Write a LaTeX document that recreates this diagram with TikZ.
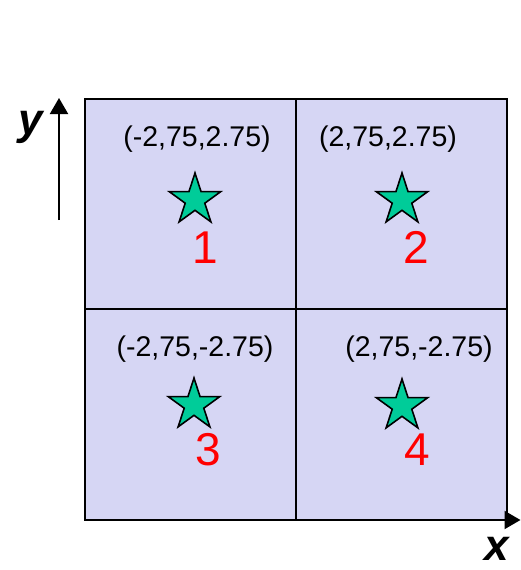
\documentclass[tikz,border=0pt]{standalone}
\usepackage{fontspec}
\setmainfont{Liberation Sans}
\usetikzlibrary{arrows.meta,shapes.geometric,positioning}

\definecolor{cellfill}{RGB}{214,214,244}
\definecolor{stargreen}{RGB}{0,204,153}

\tikzset{
    coordlabel/.style={font=\fontsize{28.5}{31}\selectfont, inner sep=0pt},
    quadnum/.style={font=\fontsize{46}{50}\selectfont, text=red, inner sep=0pt},
    axislabel/.style={font=\fontsize{44}{48}\selectfont\bfseries\itshape, inner sep=0pt},
    starmark/.style={star, star points=5, star point ratio=2.618, minimum size=54pt,
        inner sep=0pt, fill=stargreen, draw=black, line width=1.6pt}
}

\begin{document}
\begin{tikzpicture}[x=1pt, y=-1pt, >={Triangle[length=16pt, width=18pt]}]
    \useasboundingbox (0,0) rectangle (521,570);

    % Quadrants
    \draw[fill=cellfill, draw=black, line width=1.6pt] (85,99) rectangle (507,520);
    \draw[line width=1.4pt] (296,99) -- (296,520);
    \draw[line width=1.4pt] (85,309) -- (507,309);

    % Axes
    \coordinate (ytail) at (59,220);
    \coordinate (yhead) at (59,98);
    \coordinate (xtail) at (85,520);
    \coordinate (xhead) at (520.5,520);
    \draw[->, line width=2pt] (ytail) -- (yhead);
    \draw[->, line width=2pt] (xtail) -- (xhead);
    \node[axislabel] (ylab) at (31,127) {y};
    \node[axislabel] (xlab) at (497,549) {x};

    % Corner positions
    \node[coordlabel] (c1) at (197,139) {(-2,75,2.75)};
    \node[coordlabel] (c2) at (388,139) {(2,75,2.75)};
    \node[coordlabel] (c3) at (195,349) {(-2,75,-2.75)};
    \node[coordlabel] (c4) at (419,349) {(2,75,-2.75)};

    % Stars
    \node[starmark] (s1) at (195,200) {};
    \node[starmark] (s2) at (402,200) {};
    \node[starmark] (s3) at (194,405) {};
    \node[starmark] (s4) at (402,406) {};

    % Quadrant numbers
    \node[quadnum] (n1) at (205,248) {1};
    \node[quadnum] (n2) at (416,247) {2};
    \node[quadnum] (n3) at (208,450) {3};
    \node[quadnum] (n4) at (417,450) {4};
\end{tikzpicture}
\end{document}
